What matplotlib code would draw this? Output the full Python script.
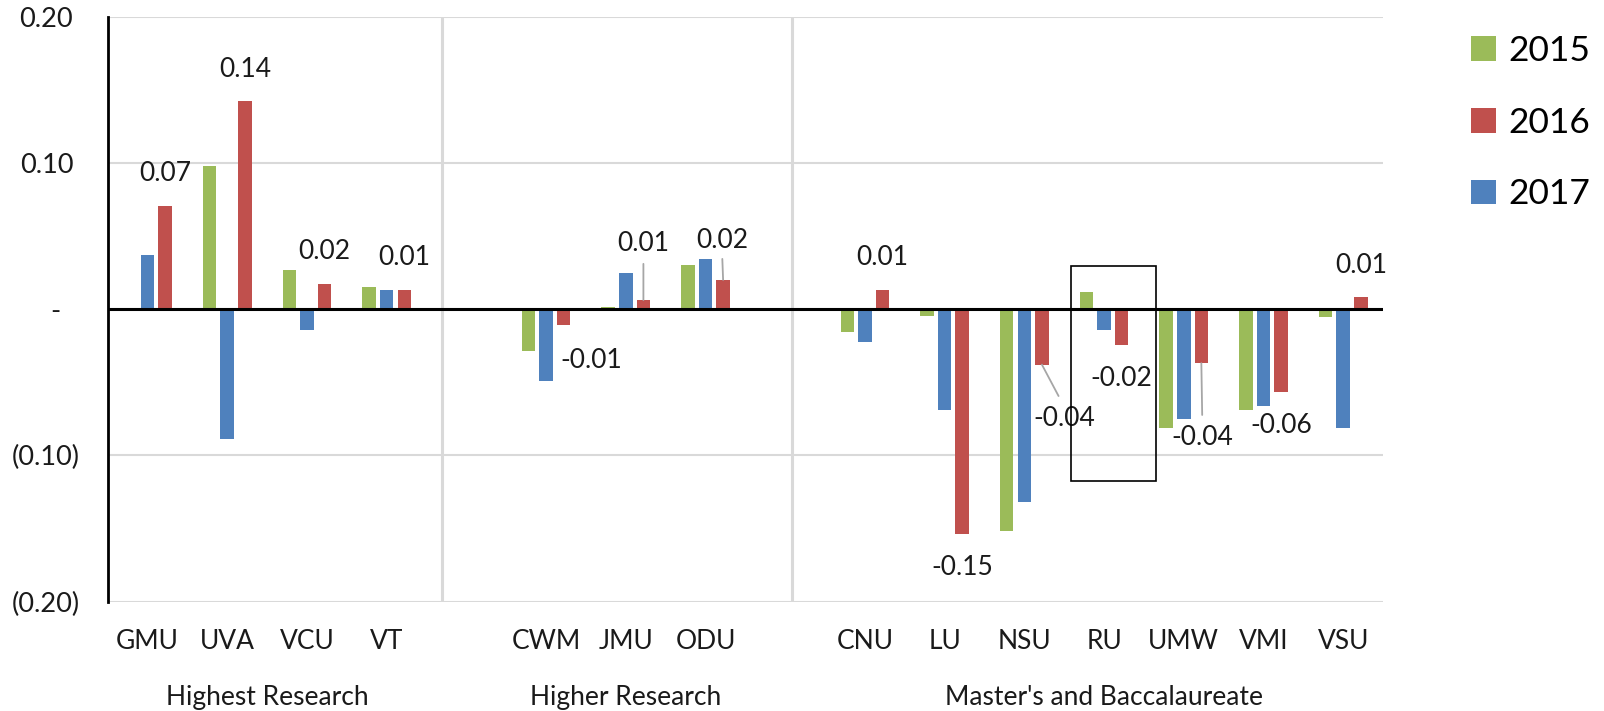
import numpy as np
import matplotlib
matplotlib.use("Agg")
import matplotlib.pyplot as plt
from matplotlib.patches import Rectangle
from matplotlib.transforms import ScaledTranslation, blended_transform_factory

plt.rcParams['font.family'] = ['Lato', 'DejaVu Sans']

# ---------------- data ----------------
groups = ["Highest Research", "Higher Research", "Master's and Baccalaureate"]
group_members = [["GMU", "UVA", "VCU", "VT"],
                 ["CWM", "JMU", "ODU"],
                 ["CNU", "LU", "NSU", "RU", "UMW", "VMI", "VSU"]]
categories = [c for g in group_members for c in g]

years = ["2015", "2016", "2017"]
v2015 = [np.nan, 0.098, 0.027, 0.015, -0.029, 0.0015, 0.030,
         -0.016, -0.005, -0.152, 0.012, -0.081, -0.069, -0.0055]
v2016 = [0.0706, 0.142, 0.0174, 0.0134, -0.0106, 0.0062, 0.020,
         0.0133, -0.154, -0.038, -0.0248, -0.037, -0.057, 0.0082]
v2017 = [0.037, -0.089, -0.014, 0.0134, -0.049, 0.025, 0.034,
         -0.0226, -0.069, -0.132, -0.014, -0.075, -0.066, -0.081]

yticks = [0.20, 0.10, 0.0, -0.10, -0.20]
ytick_labels = ["0.20", "0.10", "-", "(0.10)", "(0.20)"]

# ---------------- style ----------------
GREEN, RED, BLUE = "#9BBB59", "#C0504D", "#4F81BD"
TXT = "#1a1a1a"
FS = 19

# category positions: one empty slot between groups
pos, group_centers, p = [], [], 0
for mem in group_members:
    start = p
    for _ in mem:
        pos.append(p)
        p += 1
    group_centers.append((start + p - 1) / 2)
    p += 1
pos = np.array(pos, dtype=float)

fig = plt.figure(figsize=(16.04, 7.11), dpi=100)
ax = fig.add_axes([107.7 / 1604, 109.5 / 711, (1383 - 107.7) / 1604, 584.8 / 711])
ax.set_xlim(-0.5, pos[-1] + 0.5)
ax.set_ylim(-0.2, 0.2)

W, STEP = 0.17, 0.221
b15 = ax.bar(pos - STEP, v2015, W, color=GREEN, label=years[0], zorder=2)
b17 = ax.bar(pos, v2017, W, color=BLUE, label=years[2], zorder=2)
b16 = ax.bar(pos + STEP, v2016, W, color=RED, label=years[1], zorder=2)

# grid, spines, zero line
ax.set_yticks(yticks)
ax.set_yticklabels(ytick_labels)
ax.yaxis.grid(True, color="#D9D9D9", lw=1.5, zorder=0)
ax.set_axisbelow(True)
for s in ["top", "right", "bottom"]:
    ax.spines[s].set_visible(False)
ax.spines["left"].set_color("black")
ax.spines["left"].set_linewidth(2.0)
ax.spines["left"].set_zorder(4)
ax.axhline(0, color="black", lw=2.2, zorder=3)

# group separators
for sx in [3.70, 8.09]:
    ax.axvline(sx, color="#D9D9D9", lw=2.2, zorder=1)

# ticks
ax.set_xticks(pos)
ax.set_xticklabels(categories)
ax.tick_params(axis="x", length=0, pad=20, labelsize=FS, labelcolor=TXT)
ax.tick_params(axis="y", length=0, pad=20, labelsize=FS + 0.5, labelcolor=TXT)
shifts = {"0.20": 6.7, "0.10": 6.7, "-": 20, "(0.10)": 0, "(0.20)": 0}
for lab in ax.get_yticklabels():
    dx = shifts.get(lab.get_text(), 0)
    lab.set_transform(lab.get_transform() + ScaledTranslation(-dx / 100, 0, fig.dpi_scale_trans))

# group labels
tr = blended_transform_factory(ax.transData, ax.transAxes)
for gc, name in zip(group_centers, groups):
    ax.text(gc, -0.165, name, transform=tr, ha="center", va="center",
            fontsize=FS, color=TXT)

# data labels (2016 series)
special = {
    "CWM": ((28, -36), None),
    "JMU": ((0, 57), ((0.5, 0), 4)),
    "ODU": ((-1, 39), ((0.5, 0), 2)),
    "NSU": ((22, -54), ((0.5, 1), 6)),
    "UMW": ((1, -74), ((0.5, 1), 5)),
}
for i, (cat, v) in enumerate(zip(categories, v2016)):
    x = pos[i] + STEP
    if cat in special:
        off, leader = special[cat]
    else:
        off, leader = ((0, 32) if v > 0 else (0, -33)), None
    kw = {}
    if leader is not None:
        relpos, shr = leader
        kw["arrowprops"] = dict(arrowstyle="-", color="#A6A6A6", lw=1.3,
                                shrinkA=shr, shrinkB=0, relpos=relpos)
    ax.annotate(f"{v:.2f}", xy=(x, v), xytext=off, textcoords="offset pixels",
                ha="center", va="center", fontsize=FS, color=TXT, zorder=5, **kw)

# highlight box around RU
ru = pos[categories.index("RU")]
ax.add_patch(Rectangle((ru - 0.42, -0.1176), 1.07, 0.1468, fill=False,
                       edgecolor="black", lw=1.2, zorder=6))

# legend
fig.legend(handles=[b15, b16, b17], labels=years, loc="upper left",
           bbox_to_anchor=(1471 / 1604, 1 - 35 / 711), frameon=False,
           fontsize=25.5, handlelength=0.7, handleheight=0.7, handletextpad=0.35,
           labelspacing=1.12, borderpad=0, borderaxespad=0)

fig.savefig("out.png", dpi=100)
